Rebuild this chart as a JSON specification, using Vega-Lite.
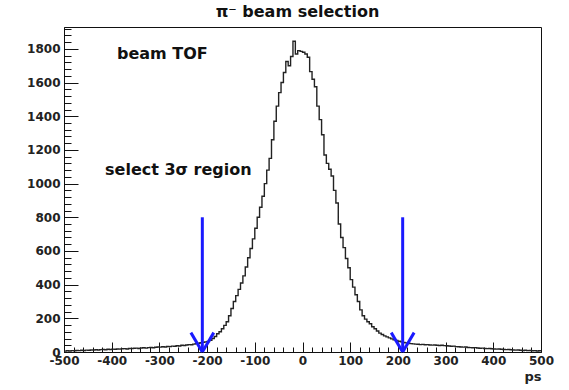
{
  "$schema": "https://vega.github.io/schema/vega-lite/v6.json",
  "width": 477,
  "height": 325,
  "autosize": "none",
  "padding": {"left": 64, "top": 27, "right": 28, "bottom": 38},
  "background": "white",
  "title": {"text": "π⁻ beam selection", "font": "DejaVu Sans", "fontSize": 16, "fontWeight": "bold", "color": "#111", "offset": 7, "dx": -5},
  "config": {
    "view": {"stroke": "#111", "strokeWidth": 1},
    "axis": {"labelFont": "DejaVu Sans", "labelFontWeight": "bold", "labelFontSize": 12, "labelColor": "#222", "domainColor": "#111", "tickColor": "#111", "grid": false, "titleFont": "DejaVu Sans", "titleFontWeight": "bold", "titleFontSize": 13, "titleColor": "#222"}
  },
  "datasets": {
    "hist": [
      {"t": -500, "n": 5}, {"t": -495, "n": 7}, {"t": -490, "n": 6}, {"t": -485, "n": 8}, {"t": -480, "n": 7}, {"t": -475, "n": 9}, {"t": -470, "n": 8}, {"t": -465, "n": 10}, {"t": -460, "n": 9}, {"t": -455, "n": 11},
      {"t": -450, "n": 10}, {"t": -445, "n": 12}, {"t": -440, "n": 11}, {"t": -435, "n": 13}, {"t": -430, "n": 12}, {"t": -425, "n": 14}, {"t": -420, "n": 15}, {"t": -415, "n": 13}, {"t": -410, "n": 16}, {"t": -405, "n": 15},
      {"t": -400, "n": 17}, {"t": -395, "n": 16}, {"t": -390, "n": 18}, {"t": -385, "n": 17}, {"t": -380, "n": 19}, {"t": -375, "n": 20}, {"t": -370, "n": 18}, {"t": -365, "n": 21}, {"t": -360, "n": 20}, {"t": -355, "n": 22},
      {"t": -350, "n": 23}, {"t": -345, "n": 21}, {"t": -340, "n": 24}, {"t": -335, "n": 25}, {"t": -330, "n": 23}, {"t": -325, "n": 26}, {"t": -320, "n": 27}, {"t": -315, "n": 25}, {"t": -310, "n": 28}, {"t": -305, "n": 30},
      {"t": -300, "n": 29}, {"t": -295, "n": 31}, {"t": -290, "n": 30}, {"t": -285, "n": 33}, {"t": -280, "n": 32}, {"t": -275, "n": 35}, {"t": -270, "n": 34}, {"t": -265, "n": 37}, {"t": -260, "n": 36}, {"t": -255, "n": 40},
      {"t": -250, "n": 39}, {"t": -245, "n": 42}, {"t": -240, "n": 44}, {"t": -235, "n": 43}, {"t": -230, "n": 47}, {"t": -225, "n": 50}, {"t": -220, "n": 52}, {"t": -215, "n": 55}, {"t": -210, "n": 57}, {"t": -205, "n": 60},
      {"t": -200, "n": 62}, {"t": -195, "n": 70}, {"t": -190, "n": 80}, {"t": -185, "n": 92}, {"t": -180, "n": 108}, {"t": -175, "n": 120}, {"t": -170, "n": 138}, {"t": -165, "n": 158}, {"t": -160, "n": 180}, {"t": -155, "n": 215},
      {"t": -150, "n": 258}, {"t": -145, "n": 300}, {"t": -140, "n": 335}, {"t": -135, "n": 372}, {"t": -130, "n": 410}, {"t": -125, "n": 452}, {"t": -120, "n": 505}, {"t": -115, "n": 560}, {"t": -110, "n": 615}, {"t": -105, "n": 672},
      {"t": -100, "n": 735}, {"t": -95, "n": 800}, {"t": -90, "n": 860}, {"t": -85, "n": 925}, {"t": -80, "n": 1000}, {"t": -75, "n": 1080}, {"t": -70, "n": 1150}, {"t": -65, "n": 1260}, {"t": -60, "n": 1370}, {"t": -55, "n": 1460},
      {"t": -50, "n": 1540}, {"t": -45, "n": 1600}, {"t": -40, "n": 1660}, {"t": -35, "n": 1725}, {"t": -30, "n": 1700}, {"t": -25, "n": 1755}, {"t": -20, "n": 1845}, {"t": -15, "n": 1770}, {"t": -10, "n": 1790}, {"t": -5, "n": 1785},
      {"t": 0, "n": 1780}, {"t": 5, "n": 1770}, {"t": 10, "n": 1750}, {"t": 15, "n": 1665}, {"t": 20, "n": 1620}, {"t": 25, "n": 1575}, {"t": 30, "n": 1460}, {"t": 35, "n": 1380}, {"t": 40, "n": 1290}, {"t": 45, "n": 1170},
      {"t": 50, "n": 1120}, {"t": 55, "n": 1085}, {"t": 60, "n": 1045}, {"t": 65, "n": 960}, {"t": 70, "n": 885}, {"t": 75, "n": 760}, {"t": 80, "n": 680}, {"t": 85, "n": 620}, {"t": 90, "n": 555}, {"t": 95, "n": 500},
      {"t": 100, "n": 430}, {"t": 105, "n": 385}, {"t": 110, "n": 340}, {"t": 115, "n": 300}, {"t": 120, "n": 250}, {"t": 125, "n": 215}, {"t": 130, "n": 195}, {"t": 135, "n": 180}, {"t": 140, "n": 168}, {"t": 145, "n": 150},
      {"t": 150, "n": 138}, {"t": 155, "n": 125}, {"t": 160, "n": 112}, {"t": 165, "n": 104}, {"t": 170, "n": 96}, {"t": 175, "n": 90}, {"t": 180, "n": 84}, {"t": 185, "n": 78}, {"t": 190, "n": 72}, {"t": 195, "n": 68},
      {"t": 200, "n": 64}, {"t": 205, "n": 60}, {"t": 210, "n": 56}, {"t": 215, "n": 54}, {"t": 220, "n": 52}, {"t": 225, "n": 50}, {"t": 230, "n": 48}, {"t": 235, "n": 47}, {"t": 240, "n": 46}, {"t": 245, "n": 44},
      {"t": 250, "n": 45}, {"t": 255, "n": 43}, {"t": 260, "n": 44}, {"t": 265, "n": 42}, {"t": 270, "n": 41}, {"t": 275, "n": 42}, {"t": 280, "n": 40}, {"t": 285, "n": 39}, {"t": 290, "n": 40}, {"t": 295, "n": 38},
      {"t": 300, "n": 37}, {"t": 305, "n": 36}, {"t": 310, "n": 34}, {"t": 315, "n": 35}, {"t": 320, "n": 32}, {"t": 325, "n": 31}, {"t": 330, "n": 30}, {"t": 335, "n": 29}, {"t": 340, "n": 30}, {"t": 345, "n": 27},
      {"t": 350, "n": 26}, {"t": 355, "n": 25}, {"t": 360, "n": 26}, {"t": 365, "n": 24}, {"t": 370, "n": 22}, {"t": 375, "n": 23}, {"t": 380, "n": 21}, {"t": 385, "n": 20}, {"t": 390, "n": 21}, {"t": 395, "n": 19},
      {"t": 400, "n": 18}, {"t": 405, "n": 17}, {"t": 410, "n": 18}, {"t": 415, "n": 16}, {"t": 420, "n": 15}, {"t": 425, "n": 14}, {"t": 430, "n": 15}, {"t": 435, "n": 13}, {"t": 440, "n": 12}, {"t": 445, "n": 11},
      {"t": 450, "n": 12}, {"t": 455, "n": 10}, {"t": 460, "n": 9}, {"t": 465, "n": 10}, {"t": 470, "n": 8}, {"t": 475, "n": 9}, {"t": 480, "n": 7}, {"t": 485, "n": 8}, {"t": 490, "n": 6}, {"t": 495, "n": 7},
      {"t": 500, "n": 7}
    ],
    "arrows": [
      {"x": -210, "y": 800, "x2": -210, "y2": 0},
      {"x": -234, "y": 115, "x2": -210, "y2": 0},
      {"x": -186, "y": 115, "x2": -210, "y2": 0},
      {"x": 210, "y": 800, "x2": 210, "y2": 0},
      {"x": 186, "y": 115, "x2": 210, "y2": 0},
      {"x": 234, "y": 115, "x2": 210, "y2": 0}
    ],
    "labels": [
      {"x": -389, "y": 1768, "label": "beam TOF"},
      {"x": -414, "y": 1083, "label": "select 3σ region"}
    ]
  },
  "layer": [
    {
      "data": {"name": "hist"},
      "mark": {"type": "line", "interpolate": "step-after", "color": "#222", "strokeWidth": 1.4},
      "encoding": {
        "x": {"field": "t", "type": "quantitative", "scale": {"domain": [-500, 500], "nice": false, "zero": false},
              "axis": {"values": [-500, -400, -300, -200, -100, 0, 100, 200, 300, 400, 500], "tickSize": -10, "labelPadding": 13, "title": "ps", "titleAnchor": "end", "titleAlign": "right", "titlePadding": 4, "labelExpr": "'' + datum.value", "labelFlush": false}},
        "y": {"field": "n", "type": "quantitative", "scale": {"domain": [0, 1930], "nice": false},
              "axis": {"values": [0, 200, 400, 600, 800, 1000, 1200, 1400, 1600, 1800], "tickSize": -14, "labelPadding": 18, "title": null, "labelExpr": "'' + datum.value", "labelFlush": false}}
      }
    },
    {
      "data": {"name": "arrows"},
      "mark": {"type": "rule", "color": "#1a1aff", "strokeWidth": 3},
      "encoding": {
        "x": {"field": "x", "type": "quantitative",
              "axis": {"orient": "bottom", "values": [-480, -460, -440, -420, -380, -360, -340, -320, -280, -260, -240, -220, -180, -160, -140, -120, -80, -60, -40, -20, 20, 40, 60, 80, 120, 140, 160, 180, 220, 240, 260, 280, 320, 340, 360, 380, 420, 440, 460, 480], "labels": false, "domain": false, "tickSize": -5, "title": null}},
        "y": {"field": "y", "type": "quantitative",
              "axis": {"orient": "left", "values": [40, 80, 120, 160, 240, 280, 320, 360, 440, 480, 520, 560, 640, 680, 720, 760, 840, 880, 920, 960, 1040, 1080, 1120, 1160, 1240, 1280, 1320, 1360, 1440, 1480, 1520, 1560, 1640, 1680, 1720, 1760, 1840, 1880, 1920], "labels": false, "domain": false, "tickSize": -7, "title": null}},
        "x2": {"field": "x2"},
        "y2": {"field": "y2"}
      }
    },
    {
      "data": {"name": "labels"},
      "mark": {"type": "text", "align": "left", "baseline": "middle", "font": "DejaVu Sans", "fontWeight": "bold", "fontSize": 16, "color": "#111"},
      "encoding": {
        "x": {"field": "x", "type": "quantitative", "axis": null},
        "y": {"field": "y", "type": "quantitative", "axis": null},
        "text": {"field": "label"}
      }
    }
  ],
  "resolve": {"axis": {"x": "independent", "y": "independent"}}
}
